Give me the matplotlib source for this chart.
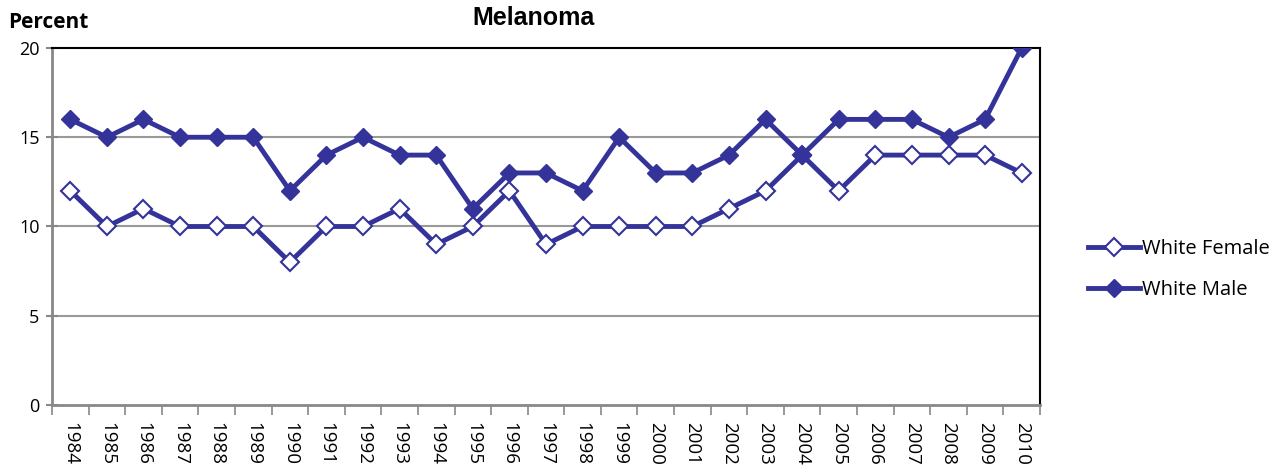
import numpy as np
import matplotlib

matplotlib.use("Agg")
import matplotlib.pyplot as plt  # noqa: E402

years = list(range(1984, 2011))
white_female = [12, 10, 11, 10, 10, 10, 8, 10, 10, 11, 9, 10, 12, 9, 10, 10,
                10, 10, 11, 12, 14, 12, 14, 14, 14, 14, 13]
white_male = [16, 15, 16, 15, 15, 15, 12, 14, 15, 14, 14, 11, 13, 13, 12, 15,
              13, 13, 14, 16, 14, 16, 16, 16, 15, 16, 20]

COLOR = "#333399"
plt.rcParams["font.family"] = ["Open Sans", "DejaVu Sans"]

fig = plt.figure(figsize=(12.81, 4.70), dpi=100)
ax = fig.add_axes([52 / 1281, 1 - 405 / 470, (1040 - 52) / 1281, (405 - 48) / 470])

x = np.arange(len(years))
ax.plot(x, white_female, color=COLOR, lw=3.5, marker="D", ms=9,
        mfc="white", mec=COLOR, mew=1.5, label="White Female", zorder=3)
ax.plot(x, white_male, color=COLOR, lw=3.5, marker="D", ms=9,
        mfc=COLOR, mec=COLOR, label="White Male", zorder=3)

ax.set_xlim(-0.5, len(years) - 0.5)
ax.set_ylim(0, 20)
ax.set_yticks([0, 5, 10, 15, 20])
ax.tick_params(axis="y", labelsize=13, length=8, direction="inout",
               color="#888888", width=1.5, pad=5)
for y in (5, 10, 15):
    ax.axhline(y, color="#999999", lw=1.5, zorder=1)

ax.set_xticks(x)
ax.set_xticklabels([str(y) for y in years], rotation=-90, fontsize=13.5)
ax.tick_params(axis="x", length=0, pad=12)
ax.set_xticks(np.arange(-0.5, len(years), 1), minor=True)
ax.tick_params(axis="x", which="minor", length=7, color="#888888", width=1.2)

for side in ("left", "bottom"):
    ax.spines[side].set_color("#888888")
    ax.spines[side].set_linewidth(2)
for side in ("top", "right"):
    ax.spines[side].set_color("black")
    ax.spines[side].set_linewidth(1.5)

fig.text(534 / 1281, 1 - 18 / 470, "Melanoma", ha="center", va="center",
         fontsize=18, fontweight="bold", family="Liberation Sans")
fig.text(8 / 1281, 1 - 22 / 470, "Percent", ha="left", va="center",
         fontsize=15, fontweight="bold")

ax.legend(loc="center left", bbox_to_anchor=(1.03, 0.38), frameon=False,
          fontsize=14.5, handlelength=2.6, labelspacing=1.05, handletextpad=0.1)

fig.savefig("out.png", dpi=100)
